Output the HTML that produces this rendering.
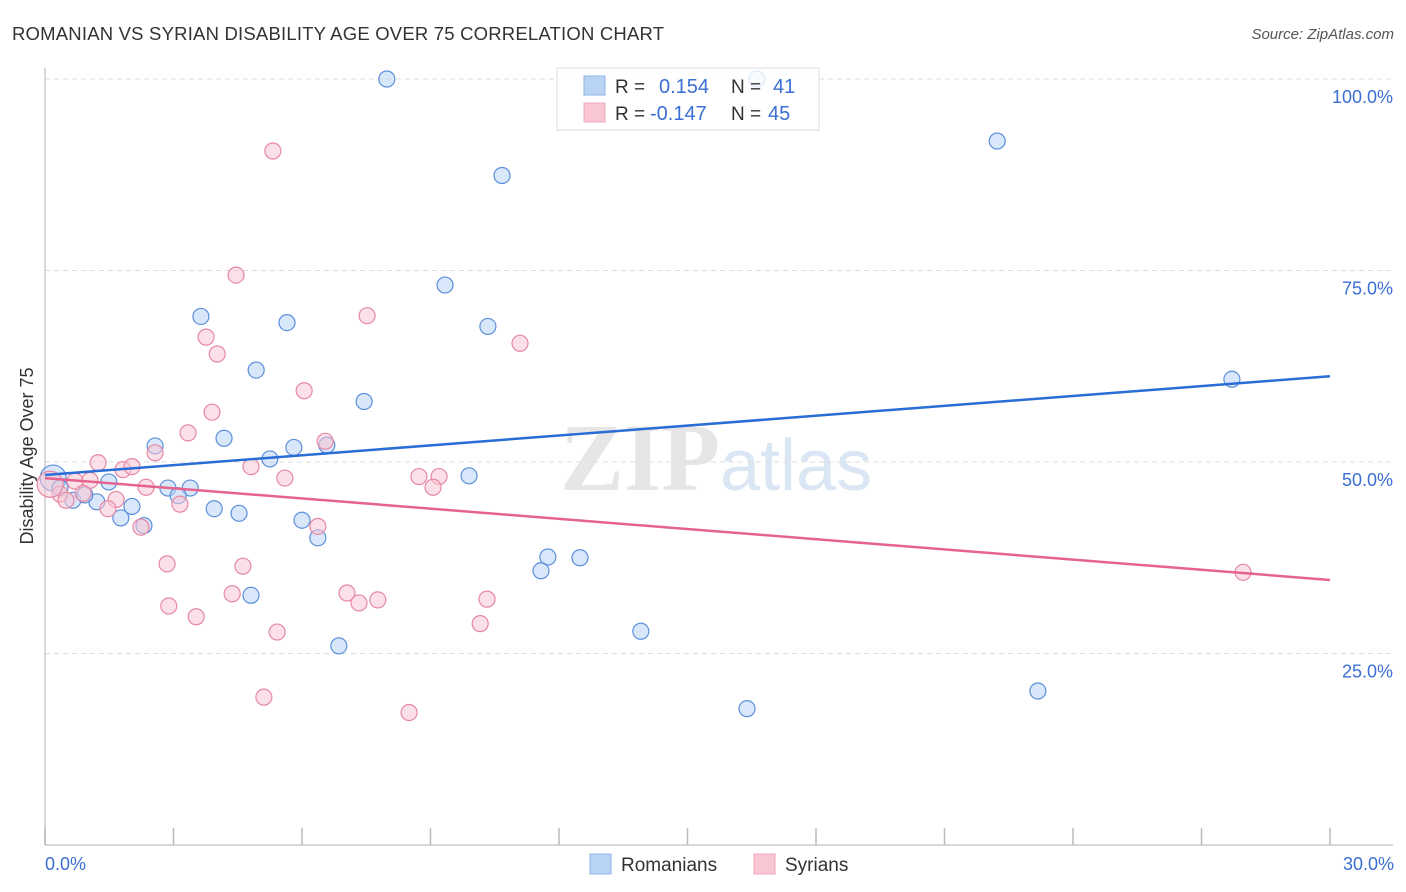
<!DOCTYPE html>
<html><head><meta charset="utf-8"><style>
body{margin:0;background:#fff;font-family:"Liberation Sans",sans-serif}
svg{display:block}
</style></head><body>
<svg width="1406" height="892" xmlns="http://www.w3.org/2000/svg">
<text x="12" y="40" font-size="18.5" letter-spacing="0.2" fill="#333">ROMANIAN VS SYRIAN DISABILITY AGE OVER 75 CORRELATION CHART</text>
<text x="1394" y="39" font-size="15" fill="#555" font-style="italic" text-anchor="end">Source: ZipAtlas.com</text>
<text x="720" y="490" font-size="96" fill="#e6e6e6" font-family="Liberation Serif" text-anchor="end" font-weight="bold">ZIP</text>
<text x="720" y="490" font-size="72" fill="#dbe6f5">atlas</text>
<g id="grid"></g>
<line x1="45" y1="68" x2="45" y2="845" stroke="#ccc" stroke-width="1.5"/>
<line x1="45" y1="845" x2="1393" y2="845" stroke="#ccc" stroke-width="1.5"/>
<g id="ticks"></g>
<text transform="translate(33,456) rotate(-90)" font-size="18" fill="#333" text-anchor="middle">Disability Age Over 75</text>
<text x="45" y="870" font-size="18" fill="#3b6fd4">0.0%</text>
<text x="1394" y="870" font-size="18" fill="#3b6fd4" text-anchor="end">30.0%</text>
<g id="pts"></g>
<g id="trends"></g>
<g>
<rect x="557" y="68" width="262" height="62" fill="#fff" fill-opacity="0.8" stroke="#ddd"/>
<rect x="584" y="76" width="21" height="19" fill="#b9d3f5" stroke="#8fb3e6"/>
<rect x="584" y="103" width="21" height="19" fill="#f9c6d4" stroke="#eea7bb"/>
<text x="615" y="93" font-size="19" fill="#333">R =</text>
<text x="659" y="93" font-size="20" fill="#3b6fd4">0.154</text>
<text x="731" y="93" font-size="19" fill="#333">N =</text>
<text x="773" y="93" font-size="20" fill="#3b6fd4">41</text>
<text x="615" y="120" font-size="19" fill="#333">R =</text>
<text x="650" y="120" font-size="20" fill="#3b6fd4">-0.147</text>
<text x="731" y="120" font-size="19" fill="#333">N =</text>
<text x="768" y="120" font-size="20" fill="#3b6fd4">45</text>
</g>
<g>
<rect x="590" y="854" width="21" height="20" fill="#b9d3f5" stroke="#8fb3e6"/>
<text x="621" y="871" font-size="19" fill="#333">Romanians</text>
<rect x="754" y="854" width="21" height="20" fill="#f9c6d4" stroke="#eea7bb"/>
<text x="785" y="871" font-size="19" fill="#333">Syrians</text>
</g>
</svg>
<script>
const yTicks=[25,50,75,100];
const yTickLabels=["25.0%","50.0%","75.0%","100.0%"];
const xTicks=[0,3,6,9,12,15,18,21,24,27,30];
const romX=[7.98,16.62,22.23,10.67,9.34,3.64,5.65,10.34,4.93,27.71,7.45,4.18,2.57,5.81,6.58,5.25,9.90,1.49,2.87,3.39,3.11,0.19,0.35,0.65,1.21,2.03,3.95,4.53,1.77,2.31,6.00,6.37,11.74,12.49,11.58,4.81,13.91,6.86,23.18,16.39,0.93];
const romY=[100,100,91.9,87.4,73.1,69.0,68.2,67.7,62.0,60.8,57.9,53.1,52.1,51.9,52.2,50.4,48.2,47.4,46.6,46.6,45.6,47.9,46.6,45.0,44.8,44.2,43.9,43.3,42.7,41.7,42.4,40.1,37.6,37.5,35.8,32.6,27.9,26.0,20.1,17.8,45.7];
const syrX=[5.32,4.46,3.76,7.52,4.02,11.09,6.05,3.90,3.34,2.57,6.54,1.24,1.82,2.03,4.81,5.60,8.73,9.20,9.06,0.70,1.05,2.36,0.35,0.49,0.89,1.66,1.47,3.15,2.24,6.37,2.85,4.62,4.37,7.05,7.77,7.33,10.32,2.89,3.53,10.16,5.42,5.11,8.50,27.97,0.12];
const syrY=[90.6,74.4,66.3,69.1,64.1,65.5,59.3,56.5,53.8,51.2,52.7,49.9,49.0,49.4,49.4,47.9,48.1,48.1,46.7,47.5,47.6,46.7,45.8,45.0,45.9,45.1,43.9,44.5,41.5,41.6,36.7,36.4,32.8,32.9,32.0,31.6,32.1,31.2,29.8,28.9,27.8,19.3,17.3,35.6,47.1];
const romTrend=[48.3,61.2];
const syrTrend=[47.9,34.6];
const NS="http://www.w3.org/2000/svg";
const sx=v=>45+v/30*1285;
const sy=v=>845-v/100*766;
function mk(tag,attrs,parent){const e=document.createElementNS(NS,tag);for(const k in attrs)e.setAttribute(k,attrs[k]);document.getElementById(parent).appendChild(e);return e;}
yTicks.forEach((t,i)=>{
 const l=mk('line',{x1:45,x2:1393,y1:sy(t),y2:sy(t),stroke:'#ddd','stroke-dasharray':'5,4'},'grid');
 
 
 const tx=mk('text',{x:1393,y:sy(t)+24,'font-size':18,fill:'#3b6fd4','text-anchor':'end'},'grid');
 tx.textContent=yTickLabels[i];
 
 
});
xTicks.forEach(t=>{
 const l=mk('line',{x1:sx(t),x2:sx(t),y1:828,y2:845,stroke:'#bbb','stroke-width':1.5},'ticks');
 
 
});
function pts(X,Y,fill,stroke,name){
 X.forEach((x,i)=>{
  const big=x<0.25;
  const c=mk('circle',{cx:sx(x),cy:sy(Y[i]),r:big?13:8,fill:fill,'fill-opacity':0.55,stroke:stroke,'stroke-width':1.2},'pts');
  
  
 });
}
pts(romX,romY,'#b9d3f5','#5b8fdb','romanian-point');
pts(syrX,syrY,'#f9c6d4','#e688a5','syrian-point');
const t1=mk('line',{x1:sx(0),y1:sy(romTrend[0]),x2:sx(30),y2:sy(romTrend[1]),stroke:'#2a6dd6','stroke-width':2.5},'trends');


const t2=mk('line',{x1:sx(0),y1:sy(syrTrend[0]),x2:sx(30),y2:sy(syrTrend[1]),stroke:'#e5638e','stroke-width':2.5},'trends');


</script>
</body></html>
